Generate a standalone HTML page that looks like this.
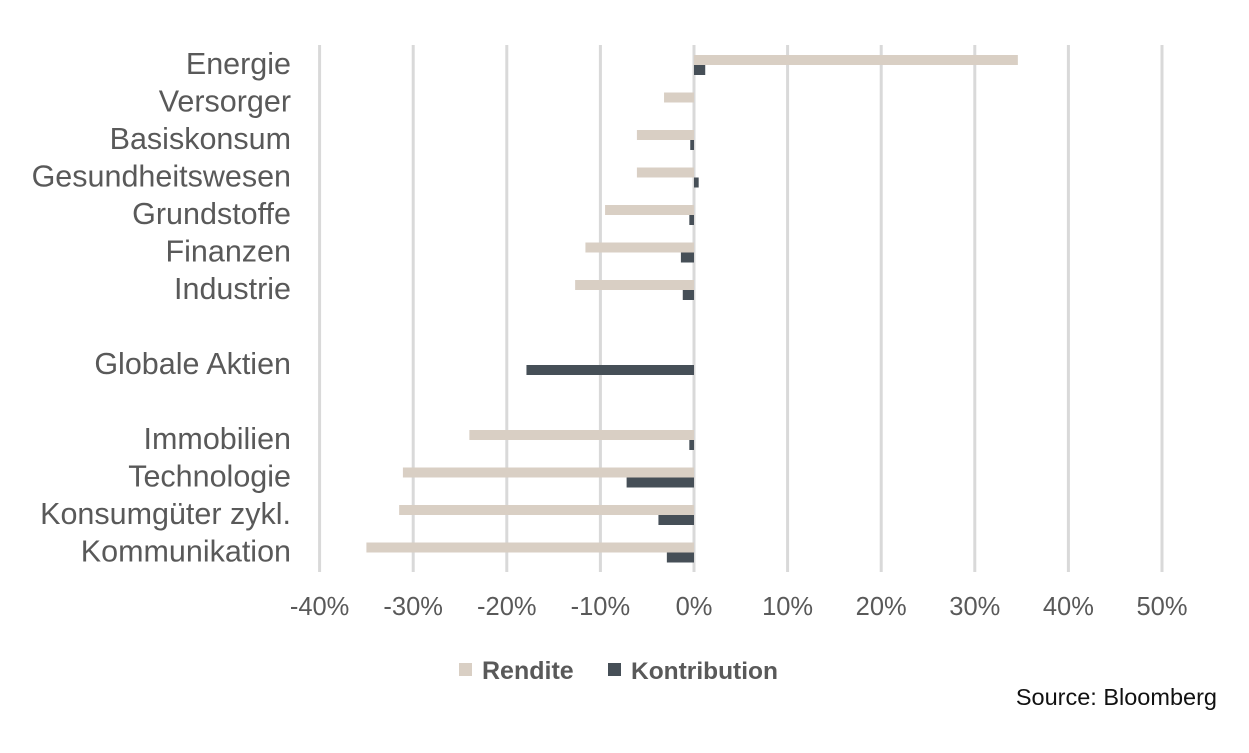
<!DOCTYPE html>
<html><head><meta charset="utf-8"><style>
body{margin:0;background:#fff;width:1249px;height:753px;overflow:hidden}
svg{display:block}
</style></head><body>
<svg id="chart" width="1249" height="753" xmlns="http://www.w3.org/2000/svg" font-family="Liberation Sans, sans-serif"></svg>
<script>
const categories=["Energie","Versorger","Basiskonsum","Gesundheitswesen","Grundstoffe","Finanzen","Industrie","","Globale Aktien","","Immobilien","Technologie","Konsumgüter zykl.","Kommunikation"];
const rendite=[34.6,-3.2,-6.1,-6.1,-9.5,-11.6,-12.7,null,0,null,-24.0,-31.1,-31.5,-35.0];
const kontribution=[1.2,0,-0.4,0.5,-0.5,-1.4,-1.2,null,-17.9,null,-0.5,-7.2,-3.8,-2.9];
const ticks=[-40,-30,-20,-10,0,10,20,30,40,50];
const tickLabels=["-40%","-30%","-20%","-10%","0%","10%","20%","30%","40%","50%"];
const svg=document.getElementById('chart');
const NS="http://www.w3.org/2000/svg";
const x=v=>694+v*9.36;
const y=i=>64+i*37.5;
function mk(t,a){const e=document.createElementNS(NS,t);for(const k in a)e.setAttribute(k,a[k]);svg.appendChild(e);return e;}
ticks.forEach((t,i)=>{
 const g=mk('line',{x1:x(t),x2:x(t),y1:45,y2:572,stroke:'#d9d9d9','stroke-width':3});
 
 
 const l=mk('text',{x:x(t),y:615,'text-anchor':'middle','font-size':25.5,fill:'#595959'});
 l.textContent=tickLabels[i];
 
 
});
categories.forEach((c,i)=>{
 if(c){const l=mk('text',{x:291,y:y(i)+10,'text-anchor':'end','font-size':30.5,fill:'#595959'});
 l.textContent=c;
 
 }
 if(rendite[i]!==null){const v=rendite[i];const r=mk('rect',{x:Math.min(x(0),x(v)),y:y(i)-9,width:Math.abs(x(v)-x(0)),height:10,fill:'#d9cfc4'});
 
 }
 if(kontribution[i]!==null){const v=kontribution[i];const r=mk('rect',{x:Math.min(x(0),x(v)),y:y(i)+1,width:Math.abs(x(v)-x(0)),height:10,fill:'#464f57'});
 
 }
});
let e;
e=mk('rect',{x:459,y:663,width:13,height:13,fill:'#d9cfc4'});
e=mk('text',{x:482,y:679,'font-size':25,'font-weight':'bold',fill:'#595959'});e.textContent='Rendite';
e=mk('rect',{x:608,y:663,width:13,height:13,fill:'#464f57'});
e=mk('text',{x:631,y:679,'font-size':24.5,'font-weight':'bold',fill:'#595959'});e.textContent='Kontribution';
e=mk('text',{x:1217,y:705,'text-anchor':'end','font-size':23.5,fill:'#111'});e.textContent='Source: Bloomberg';
</script>
</body></html>
